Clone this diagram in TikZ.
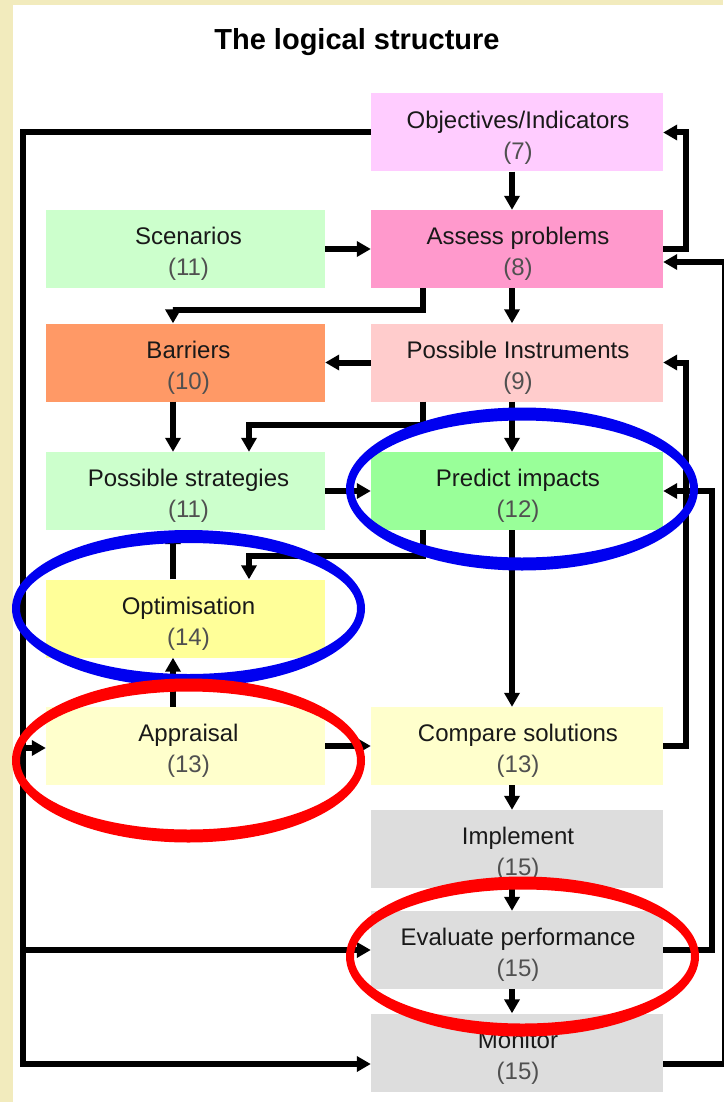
\documentclass[tikz,border=0pt]{standalone}
\usepackage{fontspec}
\setmainfont{Liberation Sans}
\usetikzlibrary{arrows.meta,calc}

\definecolor{framecol}{HTML}{F2EBBD}
\definecolor{numcol}{HTML}{505050}
\definecolor{cObj}{HTML}{FFCCFF}
\definecolor{cScen}{HTML}{CCFFCC}
\definecolor{cAssess}{HTML}{FF99CC}
\definecolor{cBarr}{HTML}{FF9966}
\definecolor{cInstr}{HTML}{FFCCCC}
\definecolor{cStrat}{HTML}{CCFFCC}
\definecolor{cPred}{HTML}{99FF99}
\definecolor{cOptim}{HTML}{FFFF99}
\definecolor{cAppr}{HTML}{FFFFCC}
\definecolor{cGrey}{HTML}{DDDDDD}
\definecolor{ringblue}{RGB}{0,0,240}
\definecolor{ringred}{RGB}{255,0,0}

\newcommand\numtxt[1]{{\color{numcol}#1}}
% ring: centre x, centre y, x radius, y radius (stroke thicker at top and bottom)
\newcommand\hring[5]{%
  \fill[#1, even odd rule] (#2,#3) ellipse [x radius=#4pt+4pt, y radius=#5pt+6.5pt]
                           (#2,#3) ellipse [x radius=#4pt-4pt, y radius=#5pt-6.5pt];}

\begin{document}
\begin{tikzpicture}[x=1pt,y=-1pt,
  boxtext/.style={align=center, font=\fontsize{24}{31}\selectfont, text=black!90, yshift=-5pt},
  lbox/.style={minimum width=279pt, minimum height=78pt, inner sep=0pt, draw=none,
    label={[boxtext, xshift=3pt]center:#1}},
  rbox/.style={minimum width=292pt, minimum height=78pt, inner sep=0pt, draw=none,
    label={[boxtext, xshift=1pt]center:#1}},
  arr/.style={line width=6pt, draw=black, -{Triangle[length=14pt,width=15pt]}}
]
% page background and frame strips
\useasboundingbox (0,0) rectangle (723,1102);
\fill[white] (0,0) rectangle (723,1102);
\fill[framecol] (0,0) rectangle (13,1102);
\fill[framecol] (0,0) rectangle (723,5);

% title
\node[font=\bfseries\fontsize{29}{35}\selectfont] (title) at (357,42) {The logical structure};

% right column
\node[rbox={Objectives/Indicators\\\numtxt{(7)}}, fill=cObj] (obj) at (517,132.5) {};
\node[rbox={Assess problems\\\numtxt{(8)}}, fill=cAssess] (assess) at (517,249) {};
\node[rbox={Possible Instruments\\\numtxt{(9)}}, fill=cInstr] (instr) at (517,362.5) {};
\node[rbox={Predict impacts\\\numtxt{(12)}}, fill=cPred] (pred) at (517,491) {};
\node[rbox={Compare solutions\\\numtxt{(13)}}, fill=cAppr] (comp) at (517,746) {};
\node[rbox={Implement\\\numtxt{(15)}}, fill=cGrey] (impl) at (517,849) {};
\node[rbox={Evaluate performance\\\numtxt{(15)}}, fill=cGrey] (eval) at (517,950) {};
\node[rbox={Monitor\\\numtxt{(15)}}, fill=cGrey] (mon) at (517,1052.5) {};

% left column
\node[lbox={Scenarios\\\numtxt{(11)}}, fill=cScen] (scen) at (185.5,249) {};
\node[lbox={Barriers\\\numtxt{(10)}}, fill=cBarr] (barr) at (185.5,362.5) {};
\node[lbox={Possible strategies\\\numtxt{(11)}}, fill=cStrat] (strat) at (185.5,491) {};
\node[lbox={Optimisation\\\numtxt{(14)}}, fill=cOptim] (optim) at (185.5,618.5) {};
\node[lbox={Appraisal\\\numtxt{(13)}}, fill=cAppr] (appr) at (185.5,746) {};

% routing columns
\coordinate (cr)  at (512,0);
\coordinate (cx)  at (423,0);
\coordinate (cl1) at (173,0);
\coordinate (cl2) at (249,0);
\coordinate (r1)  at (686,0);
\coordinate (r2)  at (712,0);
\coordinate (r3)  at (725,0);
\coordinate (lbot) at (23,1064);
\coordinate (monL) at ($(mon.west)+(0,11.5)$);
\coordinate (monR) at ($(mon.east)+(0,11.5)$);
\coordinate (assessR) at ($(assess.east)+(0,13)$);

% main vertical flow
\draw[arr] (obj.south -| cr) -- (assess.north -| cr);
\draw[arr] (assess.south -| cr) -- (instr.north -| cr);
\draw[arr] (instr.south -| cr) -- (pred.north -| cr);
\draw[arr] (pred.south -| cr) -- (comp.north -| cr);
\draw[arr] (comp.south -| cr) -- (impl.north -| cr);
\draw[arr] (impl.south -| cr) -- (eval.north -| cr);
\draw[arr] (eval.south -| cr) -- (mon.north -| cr);

% horizontal links
\draw[arr] (scen.east) -- (assess.west);
\draw[arr] (instr.west) -- (barr.east);
\draw[arr] (strat.east) -- (pred.west);
\draw[arr] (appr.east) -- (comp.west);

% left column flow
\draw[arr] (barr.south -| cl1) -- (strat.north -| cl1);
\draw[arr] (optim.north -| cl1) -- (strat.south -| cl1);
\draw[arr] (appr.north -| cl1) -- (optim.south -| cl1);
\draw[arr] (assess.south -| cx) -- ++(0,22) -| (barr.north -| cl1);
\draw[arr] (instr.south -| cx) -- ++(0,23) -| (strat.north -| cl2);
\draw[arr] (pred.south -| cx) -- ++(0,26) -| (optim.north -| cl2);

% feedback loops on the right
\draw[arr] (assess.east) -- (assess.east -| r1) |- (obj.east);
\draw[arr] (comp.east) -- (comp.east -| r1) |- (instr.east);
\draw[arr] (eval.east) -- (eval.east -| r2) |- (pred.east);
\draw[arr] (monR) -- (monR -| r3) |- (assessR);

% objectives feed on the left
\draw[arr] (obj.west) -| (lbot) -- (monL);
\draw[arr] (eval.west -| lbot) -- (eval.west);
\draw[arr] ($(appr.west -| lbot)+(0,2)$) -- ($(appr.west)+(0,2)$);

% highlight rings
\hring{ringblue}{522}{489}{172}{75}
\hring{ringblue}{188.5}{608.5}{172.5}{72}
\hring{ringred}{188.5}{760.5}{172.5}{75.5}
\hring{ringred}{522.5}{956.5}{172.5}{73.5}
\end{tikzpicture}
\end{document}
